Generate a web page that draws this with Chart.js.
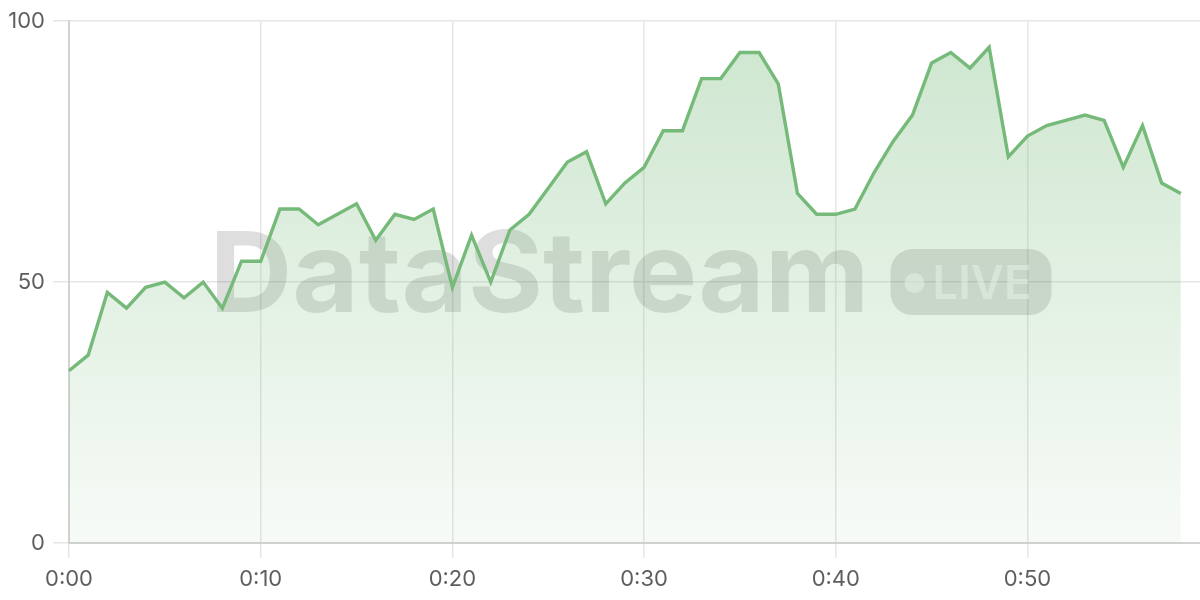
<!DOCTYPE html>
<html>
<head>
<meta charset="utf-8">
<script src="https://cdn.jsdelivr.net/npm/chart.js@4"></script>
<style>
html,body{margin:0;padding:0;background:#fff;}
#wrap{width:1200px;height:600px;position:relative;}
</style>
</head>
<body>
<div id="wrap"><canvas id="c" width="1200" height="600"></canvas></div>
<script>
const timeLabels = ['0:00','0:01','0:02','0:03','0:04','0:05','0:06','0:07','0:08','0:09',
  '0:10','0:11','0:12','0:13','0:14','0:15','0:16','0:17','0:18','0:19',
  '0:20','0:21','0:22','0:23','0:24','0:25','0:26','0:27','0:28','0:29',
  '0:30','0:31','0:32','0:33','0:34','0:35','0:36','0:37','0:38','0:39',
  '0:40','0:41','0:42','0:43','0:44','0:45','0:46','0:47','0:48','0:49',
  '0:50','0:51','0:52','0:53','0:54','0:55','0:56','0:57','0:58','0:59'];
const shownTicks = ['0:00','0:10','0:20','0:30','0:40','0:50'];
const values = [33,36,48,45,49,50,47,50,45,54,
  54,64,64,61,63,65,58,63,62,64,
  49,59,50,60,63,68,73,75,65,69,
  72,79,79,89,89,94,94,88,67,63,
  63,64,71,77,82,92,94,91,95,74,
  78,80,81,82,81,72,80,69,67];
const yTicks = [0,50,100];
const watermarkText = 'DataStream';
const badgeText = 'LIVE';

const FONT = 'Inter, "Noto Sans", sans-serif';

const watermark = {
  id: 'watermark',
  beforeDatasetsDraw(chart) {
    const {ctx, chartArea: a} = chart;
    ctx.save();
    const cx = (a.left + a.right) / 2 - 4;
    const cy = (a.top + a.bottom) / 2;
    ctx.font = 'bold 112px ' + FONT;
    const tw = ctx.measureText(watermarkText).width;
    const scaleX = 660 / tw;
    ctx.font = '600 46px ' + FONT;
    const lw = ctx.measureText(badgeText).width;
    const badgeW = 161, badgeH = 66, gap = 21;
    const total = 660 + gap + badgeW;
    const x0 = cx - total / 2;
    ctx.fillStyle = 'rgba(0,0,0,0.13)';
    ctx.font = 'bold 112px ' + FONT;
    ctx.textBaseline = 'alphabetic';
    ctx.save();
    ctx.translate(x0, cy + 30);
    ctx.scale(scaleX, 1);
    ctx.fillText(watermarkText, 0, 0);
    ctx.restore();
    const bx = x0 + 660 + gap, by = cy - badgeH / 2;
    const r = 22;
    ctx.beginPath();
    ctx.moveTo(bx + r, by);
    ctx.arcTo(bx + badgeW, by, bx + badgeW, by + badgeH, r);
    ctx.arcTo(bx + badgeW, by + badgeH, bx, by + badgeH, r);
    ctx.arcTo(bx, by + badgeH, bx, by, r);
    ctx.arcTo(bx, by, bx + badgeW, by, r);
    ctx.closePath();
    ctx.fill();
    ctx.fillStyle = 'rgba(255,255,255,0.55)';
    ctx.beginPath();
    ctx.arc(bx + 24, cy + 1, 10, 0, Math.PI * 2);
    ctx.fill();
    ctx.font = '600 46px ' + FONT;
    ctx.save();
    ctx.translate(bx + 42, cy + 17);
    ctx.scale(99 / lw, 1);
    ctx.fillText(badgeText, 0, 0);
    ctx.restore();
    ctx.restore();
  }
};

const ctx = document.getElementById('c').getContext('2d');
new Chart(ctx, {
  type: 'line',
  data: {
    labels: timeLabels,
    datasets: [{
      data: values,
      borderColor: '#76ba7a',
      borderWidth: 3.4,
      pointRadius: 0,
      tension: 0,
      fill: 'origin',
      backgroundColor(context) {
        const {chart} = context;
        const a = chart.chartArea;
        if (!a) return 'rgba(116,185,120,0.2)';
        const g = chart.ctx.createLinearGradient(0, a.top, 0, a.bottom);
        g.addColorStop(0, 'rgba(116,185,120,0.36)');
        g.addColorStop(1, 'rgba(116,185,120,0.06)');
        return g;
      }
    }]
  },
  options: {
    responsive: false,
    animation: false,
    events: [],
    layout: {padding: {left: 0, right: 0, top: 8, bottom: 0}},
    plugins: {legend: {display: false}, tooltip: {enabled: false}},
    scales: {
      x: {
        type: 'category',
        offset: false,
        afterFit(scale) { scale.height = 57; },
        grid: {color: '#e6e6e6', lineWidth: 1.5, tickLength: 15, drawTicks: true},
        border: {color: '#d2d2d2', width: 2},
        ticks: {
          autoSkip: false,
          maxRotation: 0,
          padding: 8,
          color: '#5e5e5e',
          font: {family: FONT, size: 22},
          callback(v, i) {
            const l = timeLabels[i];
            return shownTicks.includes(l) ? l : null;
          }
        }
      },
      y: {
        min: 0, max: 100,
        afterFit(scale) { scale.width = 69; },
        afterBuildTicks(axis) { axis.ticks = yTicks.map(v => ({value: v})); },
        grid: {color: '#e6e6e6', lineWidth: 1.5, tickLength: 16},
        border: {color: '#d2d2d2', width: 2},
        ticks: {
          padding: 8,
          color: '#5e5e5e',
          font: {family: FONT, size: 22}
        }
      }
    }
  },
  plugins: [watermark]
});
</script>
</body>
</html>
